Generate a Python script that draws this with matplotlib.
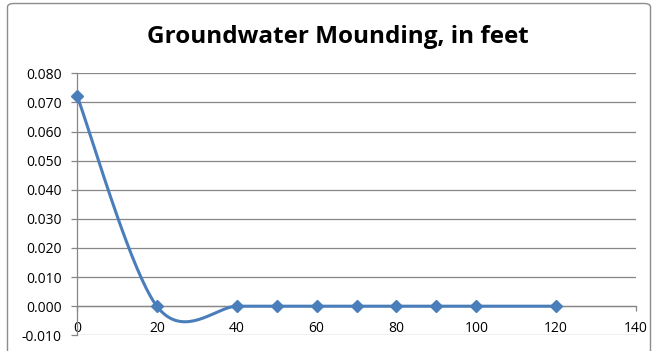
import numpy as np
import matplotlib
matplotlib.use("Agg")
import matplotlib.pyplot as plt
from matplotlib.patches import FancyBboxPatch

# Mounding at each distance from the source (ft)
distance = [0, 20, 40, 50, 60, 70, 80, 90, 100, 120]
mounding = [0.0723, 0.0, 0.0, 0.0, 0.0, 0.0, 0.0, 0.0, 0.0, 0.0]
x_ticks = [0, 20, 40, 60, 80, 100, 120, 140]
y_ticks = [-0.010, 0.000, 0.010, 0.020, 0.030, 0.040, 0.050, 0.060, 0.070, 0.080]

blue = "#4a7ebb"
grid_grey = "#878787"
plt.rcParams["font.family"] = ["Open Sans", "DejaVu Sans"]


def smooth_line(xs, ys, n=40):
    # Catmull-Rom style bezier through every point (spreadsheet "smoothed line")
    p = np.column_stack([xs, ys]).astype(float)
    ext = np.vstack([p[0], p, p[-1]])
    out = []
    for i in range(len(p) - 1):
        p0, p1, p2, p3 = ext[i], ext[i + 1], ext[i + 2], ext[i + 3]
        c1 = p1 + (p2 - p0) / 6.0
        c2 = p2 - (p3 - p1) / 6.0
        t = np.linspace(0, 1, n)[:, None]
        seg = ((1 - t) ** 3) * p1 + 3 * ((1 - t) ** 2) * t * c1 \
            + 3 * (1 - t) * t ** 2 * c2 + t ** 3 * p2
        out.append(seg if i == 0 else seg[1:])
    pts = np.vstack(out)
    return pts[:, 0], pts[:, 1]


fig = plt.figure(figsize=(6.55, 3.51), dpi=100)
ax = fig.add_axes([77 / 655, 15.7 / 351, 559 / 655, 262 / 351])

sx, sy = smooth_line(distance, mounding)
ax.plot(sx, sy, color=blue, lw=2.2, solid_capstyle="round", zorder=3, clip_on=False)
ax.plot(distance, mounding, linestyle="none", marker="D", ms=6.2,
        color=blue, zorder=4, clip_on=False)

ax.set_xlim(0, 140)
ax.set_ylim(-0.010, 0.080)
ax.set_xticks(x_ticks)
ax.set_yticks(y_ticks)
ax.set_yticklabels([f"{v:.3f}" for v in y_ticks])

ax.grid(axis="y", color=grid_grey, lw=0.9)
ax.set_axisbelow(True)
for s in ["top", "right"]:
    ax.spines[s].set_visible(False)
ax.spines["bottom"].set_position(("data", 0))
ax.spines["bottom"].set_color(grid_grey)
ax.spines["left"].set_color(grid_grey)
ax.spines["bottom"].set_linewidth(0.9)
ax.spines["left"].set_linewidth(0.9)
ax.tick_params(axis="x", direction="out", length=3.5, width=0.9, color=grid_grey,
               pad=7.5, labelsize=10, labelcolor="black")
ax.tick_params(axis="y", direction="out", length=4, width=0.9, color=grid_grey,
               pad=7, labelsize=10, labelcolor="black")

fig.text(338 / 655, 1 - 37 / 351, "Groundwater Mounding, in feet",
         ha="center", va="center", fontsize=17.5, fontweight="bold")

# chart frame
frame = FancyBboxPatch((7.5 / 655, -0.1), 643 / 655, 1.09, transform=fig.transFigure,
                       boxstyle="round,pad=0,rounding_size=0.01", fill=False,
                       edgecolor="#8c8c8c", lw=1.0, clip_on=False)
fig.patches.append(frame)

fig.savefig("out.png", dpi=100)
